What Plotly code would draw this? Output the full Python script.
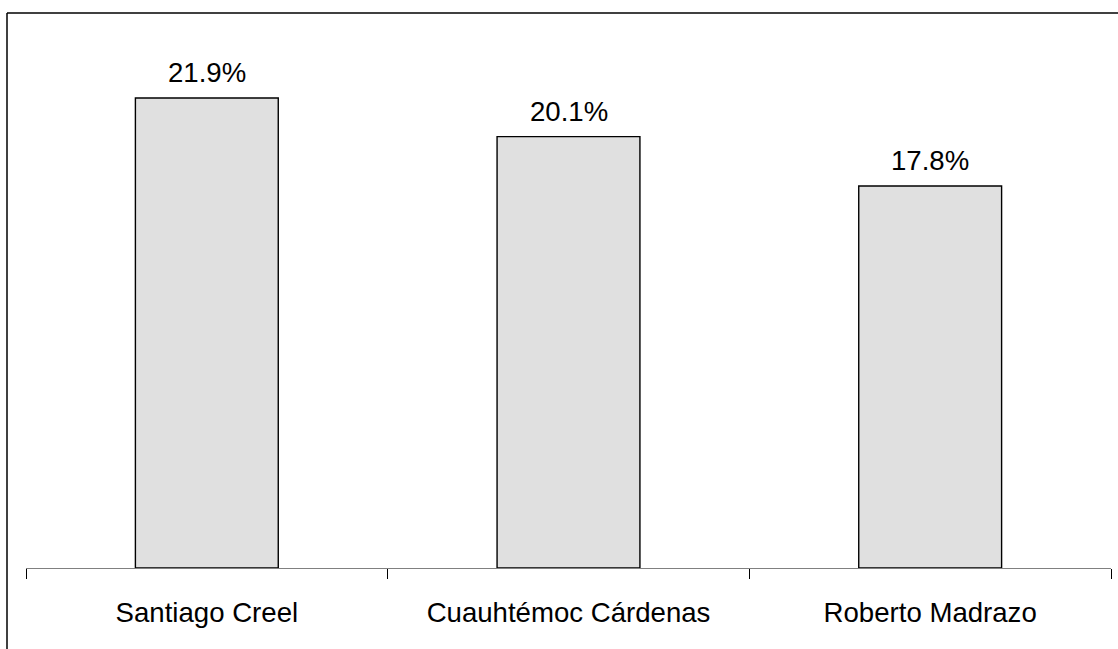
import plotly.graph_objects as go

# Candidate names and their share of preference (%)
candidates = ["Santiago Creel", "Cuauhtémoc Cárdenas", "Roberto Madrazo"]
shares = [21.9, 20.1, 17.8]
share_labels = ["21.9%", "20.1%", "17.8%"]

W, H = 1118, 649
M_L, M_R, M_T, M_B = 26, 7, 13, 81
plot_w = W - M_L - M_R
plot_h = H - M_T - M_B
y_max = 25.86

FONT = "Liberation Sans, Arial, sans-serif"
FONT_SIZE = 27.6

fig = go.Figure(
    go.Bar(
        x=candidates,
        y=shares,
        marker=dict(color="#E0E0E0", line=dict(color="#000000", width=1.4)),
        width=0.395,
        hoverinfo="skip",
    )
)

# Value labels above each bar
for name, val, lab in zip(candidates, shares, share_labels):
    fig.add_annotation(
        x=name, y=val, text=lab, showarrow=False,
        xref="x", yref="y", yanchor="bottom", yshift=8,
        font=dict(family=FONT, size=FONT_SIZE, color="#000000"),
    )

# Outer frame: top and left edges
fx = -(M_L - 7) / plot_w
fb = -(H - (M_T + plot_h)) / plot_h
fig.add_shape(type="line", xref="paper", yref="paper", x0=fx, x1=1 + M_R / plot_w,
              y0=1, y1=1, line=dict(color="#000000", width=1.5))
fig.add_shape(type="line", xref="paper", yref="paper", x0=fx, x1=fx,
              y0=1, y1=fb, line=dict(color="#000000", width=1.5))

fig.update_layout(
    width=W, height=H,
    margin=dict(l=M_L, r=M_R, t=M_T, b=M_B, pad=0),
    paper_bgcolor="#FFFFFF", plot_bgcolor="#FFFFFF",
    showlegend=False,
    xaxis=dict(
        type="category", range=[-0.5, 2.5],
        showline=True, linecolor="#808080", linewidth=1,
        ticks="outside", tickson="boundaries", ticklen=10, tickwidth=1.3,
        tickcolor="#000000", ticklabelstandoff=20,
        tickfont=dict(family=FONT, size=FONT_SIZE, color="#000000"),
        showgrid=False, zeroline=False, fixedrange=True,
    ),
    yaxis=dict(range=[0, y_max], visible=False, fixedrange=True),
)

fig.write_html("out.html")
